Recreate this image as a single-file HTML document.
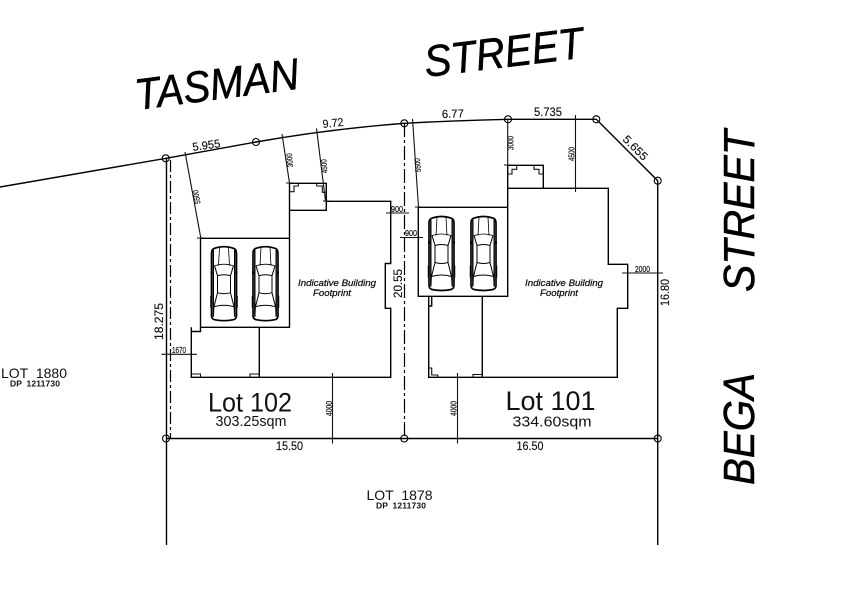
<!DOCTYPE html>
<html>
<head>
<meta charset="utf-8">
<style>
html,body{margin:0;padding:0;background:#fff;width:844px;height:599px;overflow:hidden}
svg{display:block}
text{font-family:"Liberation Sans",sans-serif;fill:#111}
.l{fill:none;stroke:#000;stroke-width:1.4}
.t{fill:none;stroke:#111;stroke-width:1.1}
.b{font-size:44px;font-style:italic;fill:#000;stroke:#000;stroke-width:.5}
.d{font-size:11.5px;stroke:#111;stroke-width:.15}
.s{font-size:8px;stroke:#111;stroke-width:.2}
.f{font-size:9px;font-style:italic;stroke:#111;stroke-width:.25}
</style>
</head>
<body>
<svg width="844" height="599" viewBox="0 0 844 599" xmlns="http://www.w3.org/2000/svg">
<defs>
<g id="car" fill="none" stroke="#000">
<path d="M3 3 Q13.500 -1 24 3 Q26 4 26 8 L26 70 Q26 73 23 74 Q13.500 76 4 74 Q1 73 1 70 L1 8 Q1 4 3 3Z" stroke-width="1.700"/>
<path d="M2.800 4 L2.800 71 M24.200 4 L24.200 71" stroke-width="1.400"/>
<path d="M9 2 L8 20 M18 2 L19 20 M4 20 Q13.500 17 23 20" stroke-width=".8"/>
<path d="M4 20 L7 30 Q13.500 28 20 30 L23 20 M7 30 L7 47 M20 30 L20 47 M7 47 L3.500 61 Q13.500 58 23.500 61 L20 47 Q13.500 49 7 47Z" stroke-width="1"/>
<path d="M3.500 61 L3 71 M23.500 61 L24 71" stroke-width=".8"/>
<path d="M0 27 L2 27 M25 27 L27 27" stroke-width="2.400"/>
<path d="M0.500 50 L0.500 62 M26.500 50 L26.500 62" stroke-width="1.500"/>
</g>
<g id="o"><circle r="3.500" fill="none" stroke="#000" stroke-width="1.100"/></g>
</defs>

<!-- big street labels -->
<text class="b" transform="translate(137,110) rotate(-7.500)" textLength="165" lengthAdjust="spacingAndGlyphs">TASMAN</text>
<text class="b" transform="translate(426,77) rotate(-7)" textLength="160" lengthAdjust="spacingAndGlyphs">STREET</text>
<text class="b" transform="translate(754,292) rotate(-90)" textLength="162" lengthAdjust="spacingAndGlyphs">STREET</text>
<text class="b" transform="translate(754,485) rotate(-90)" textLength="112" lengthAdjust="spacingAndGlyphs">BEGA</text>

<!-- boundaries -->
<path class="l" d="M0 187 L166 158.300 L256 142 Q330 129 404.300 123.300 Q455 120.500 508 119.300 L596.300 119.300 L657.700 180.700 L657.700 545 M166.500 158 L166.500 545 M166 438.500 L657.700 438.500"/>
<path class="l" d="M170.500 160 V438" stroke-dasharray="12 3 3 3" style="stroke-width:1.200"/>
<path class="l" d="M404.500 123 V438" stroke-dasharray="14 3 3 3" style="stroke-width:1.200"/>

<!-- lot 102 building -->
<path class="l" d="M200.500 238.300 H289.500 V327.300 H200.500 Z M289.500 238.300 V183.300 H326.300 V210.300 H289.500 M326.300 201.300 H390.700 V263.500 H385.300 V308.300 H390.700 V377.300 H191.300 V327.300 M259.300 327.300 V377.300 M191.300 331.500 H200.500 V327.300"/>
<path class="t" d="M289.300 191.700 H294 V186 H298.300 V183.300 M316.700 183.300 V186 H322.300 V192.300 H326.300 M191.300 374 H200.500 V377.300 M250 377.300 V374 H259.300"/>
<!-- lot 101 building -->
<path class="l" d="M418.300 207.300 H507.700 V296.300 H418.300 Z M507.700 207.300 V165.300 H543.300 V188.300 H507.700 M543.300 188.300 H608.300 V264.300 H627.700 V308.300 H617.300 V377.300 H428.700 V296.300 M482.300 296.300 V377.300 M428.700 306 H431.700 V296.300"/>
<path class="t" d="M507.700 174 H512 V169.300 H516.700 V165.300 M534 165.300 V169.300 H539 V174 H543.300 M428.700 368 H431.700 V375 H437.700 V377.300 M473 377.300 V374.500 H482.300"/>

<!-- cars -->
<use href="#car" x="210.500" y="245.700"/>
<use href="#car" x="252" y="245.700"/>
<use href="#car" x="428" y="215.500"/>
<use href="#car" x="470" y="215.500"/>

<!-- dimension leaders -->
<g class="t">
<path d="M185 152 L201 239 M197 238 H205"/>
<path d="M282 134 L289.500 183 M286 183 H293"/>
<path d="M316.500 128.500 L325.500 201 M323 201 H330"/>
<path d="M412.500 119 L418.500 207 M415 207 H422"/>
<path d="M507.700 119 V165 M504 165 H511"/>
<path d="M575.500 115 V192 M572 188.300 H579"/>
<path d="M386 213 H409"/>
<path d="M400 237.500 H423"/>
<path d="M622 273 H663"/>
<path d="M161.500 354.300 H197"/>
<path d="M332.500 373 V443.500"/>
<path d="M457.500 373 V443.500"/>
</g>

<use href="#o" x="165.700" y="158.300"/>
<use href="#o" x="256" y="142"/>
<use href="#o" x="404.300" y="123.300"/>
<use href="#o" x="508" y="119.300"/>
<use href="#o" x="596.300" y="119.300"/>
<use href="#o" x="657.700" y="180.700"/>
<use href="#o" x="166" y="438.500"/>
<use href="#o" x="404.300" y="438.500"/>
<use href="#o" x="657.700" y="438.500"/>

<!-- boundary dimensions -->
<text class="d" transform="translate(193,151) rotate(-8)" textLength="28" lengthAdjust="spacingAndGlyphs">5.955</text>
<text class="d" transform="translate(323,128) rotate(-6)" textLength="21" lengthAdjust="spacingAndGlyphs">9.72</text>
<text class="d" transform="translate(442,118) rotate(-2)" textLength="22" lengthAdjust="spacingAndGlyphs">6.77</text>
<text class="d" x="534" y="116" textLength="28" lengthAdjust="spacingAndGlyphs">5.735</text>
<text class="d" transform="translate(622,140) rotate(45)" textLength="30" lengthAdjust="spacingAndGlyphs">5.655</text>
<text class="d" transform="translate(163,340) rotate(-90)" textLength="37" lengthAdjust="spacingAndGlyphs">18.275</text>
<text class="d" transform="translate(402,298) rotate(-90)" textLength="29" lengthAdjust="spacingAndGlyphs">20.55</text>
<text class="d" transform="translate(669,306) rotate(-90)" textLength="27" lengthAdjust="spacingAndGlyphs">16.80</text>
<text class="d" x="276" y="450" textLength="27" lengthAdjust="spacingAndGlyphs">15.50</text>
<text class="d" x="516.500" y="450" textLength="27" lengthAdjust="spacingAndGlyphs">16.50</text>

<!-- small dims -->
<text class="s" transform="translate(200.500,203.500) rotate(-100)" textLength="14" lengthAdjust="spacingAndGlyphs">5500</text>
<text class="s" transform="translate(293,167) rotate(-95)" textLength="14" lengthAdjust="spacingAndGlyphs">3000</text>
<text class="s" transform="translate(327.500,173) rotate(-95)" textLength="14" lengthAdjust="spacingAndGlyphs">4500</text>
<text class="s" transform="translate(421,172) rotate(-95)" textLength="14" lengthAdjust="spacingAndGlyphs">5500</text>
<text class="s" transform="translate(513.500,150) rotate(-90)" textLength="14" lengthAdjust="spacingAndGlyphs">3000</text>
<text class="s" transform="translate(574.500,161) rotate(-90)" textLength="14" lengthAdjust="spacingAndGlyphs">4500</text>
<text class="s" x="391" y="212" textLength="12" lengthAdjust="spacingAndGlyphs">900</text>
<text class="s" x="405" y="236" textLength="12" lengthAdjust="spacingAndGlyphs">900</text>
<text class="s" x="635" y="272" textLength="15" lengthAdjust="spacingAndGlyphs">2000</text>
<text class="s" x="172" y="353" textLength="14" lengthAdjust="spacingAndGlyphs">1670</text>
<text class="s" transform="translate(332,416) rotate(-90)" textLength="15" lengthAdjust="spacingAndGlyphs">4000</text>
<text class="s" transform="translate(456.500,416) rotate(-90)" textLength="15" lengthAdjust="spacingAndGlyphs">4000</text>

<!-- interior labels -->
<text class="f" x="298" y="286" textLength="78" lengthAdjust="spacingAndGlyphs">Indicative Building</text>
<text class="f" x="313" y="296" textLength="38" lengthAdjust="spacingAndGlyphs">Footprint</text>
<text class="f" x="525" y="286" textLength="78" lengthAdjust="spacingAndGlyphs">Indicative Building</text>
<text class="f" x="540" y="296" textLength="38" lengthAdjust="spacingAndGlyphs">Footprint</text>

<text x="208" y="411.500" font-size="26.500" textLength="84" lengthAdjust="spacingAndGlyphs">Lot 102</text>
<text x="215.500" y="426" font-size="14.500" textLength="71" lengthAdjust="spacingAndGlyphs">303.25sqm</text>
<text x="505.500" y="410" font-size="27" textLength="90" lengthAdjust="spacingAndGlyphs">Lot 101</text>
<text x="512.500" y="426.500" font-size="14.500" textLength="79" lengthAdjust="spacingAndGlyphs">334.60sqm</text>

<text x="1" y="378" font-size="14" textLength="66" lengthAdjust="spacing" word-spacing="4">LOT 1880</text>
<text x="10" y="386.500" font-size="8.500" font-weight="bold" textLength="50" lengthAdjust="spacing" word-spacing="2">DP 1211730</text>
<text x="366.500" y="500" font-size="14" textLength="66" lengthAdjust="spacing" word-spacing="4">LOT 1878</text>
<text x="376" y="508.500" font-size="8.500" font-weight="bold" textLength="50" lengthAdjust="spacing" word-spacing="2">DP 1211730</text>
</svg>
</body>
</html>
